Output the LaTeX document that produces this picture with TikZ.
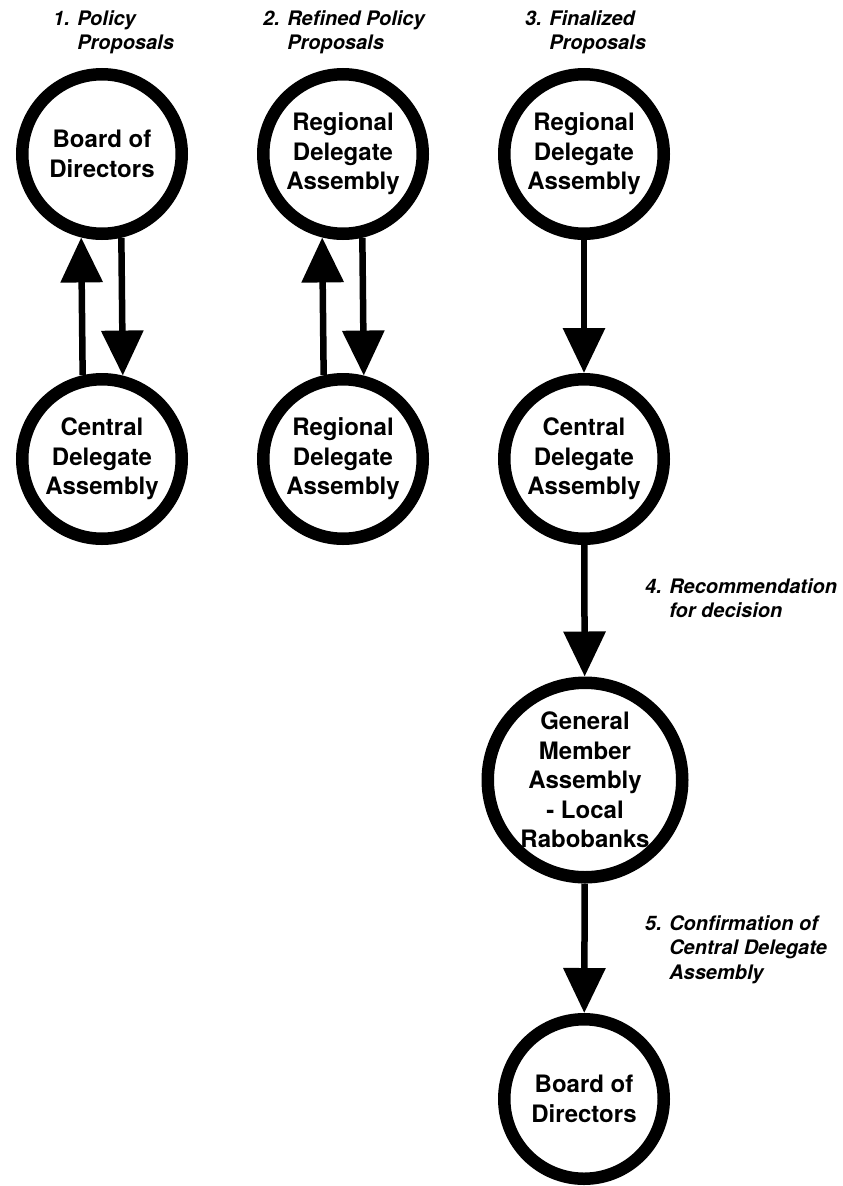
\documentclass[tikz,border=0pt]{standalone}
\usepackage{fontspec}
\setmainfont{TeX Gyre Heros}
\usetikzlibrary{arrows.meta}

\begin{document}
\begin{tikzpicture}[x=1pt, y=-1pt,
    body/.style={circle, draw=black, line width=12.5pt, fill=white, minimum size=159.5pt, inner sep=0pt, align=center, font=\bfseries\fontsize{24}{29.5}\selectfont},
    flow/.style={line width=6.5pt, -{Triangle[length=45pt, width=41pt]}},
    lbl/.style={anchor=base west, inner sep=0pt, font=\bfseries\itshape\fontsize{20}{24.5}\selectfont}]
                            \useasboundingbox (0, 0) rectangle (843, 1186);

                            \node (bod1)[body] at (102, 154) {Board of\\Directors};
                            \node (cda1)[body] at (102, 459) {Central\\Delegate\\Assembly};
                            \node (rda2)[body] at (343, 154) {Regional\\Delegate\\Assembly};
                            \node (rdb2)[body] at (343, 459) {Regional\\Delegate\\Assembly};
                            \node (rda3)[body] at (584, 154) {Regional\\Delegate\\Assembly};
                            \node (cda3)[body] at (584, 459) {Central\\Delegate\\Assembly};
                            \node (gma)[body, minimum size=194.5pt] at (585, 780) {General\\Member\\Assembly\\- Local\\Rabobanks};
                            \node (bod3)[body] at (584, 1099) {Board of\\Directors};

                            \node (s1)[lbl] at (53, 25) {\begin{tabular}[t]{@{}l@{ }l@{}}1. & Policy\\ & Proposals\end{tabular}};
                            \node (s2)[lbl] at (263, 25) {\begin{tabular}[t]{@{}l@{ }l@{}}2. & Refined Policy\\ & Proposals\end{tabular}};
                            \node (s3)[lbl] at (525, 25) {\begin{tabular}[t]{@{}l@{ }l@{}}3. & Finalized\\ & Proposals\end{tabular}};
                            \node (s4)[lbl] at (645, 593) {\begin{tabular}[t]{@{}l@{ }l@{}}4. & Recommendation\\ & for decision\end{tabular}};
                            \node (s5)[lbl] at (645, 930) {\begin{tabular}[t]{@{}l@{ }l@{}}5. & Confirmation of\\ & Central Delegate\\ & Assembly\end{tabular}};

                            \draw [flow] (cda1.103.4) -- (bod1.256.6);
                            \draw [flow] (bod1.283.4) -- (cda1.76.6);
                            \draw [flow] (rdb2.103.4) -- (rda2.256.6);
                            \draw [flow] (rda2.283.4) -- (rdb2.76.6);
                            \draw [flow] (rda3) -- (cda3);
                            \draw [flow] (cda3) -- (gma);
                            \draw [flow] (gma) -- (bod3);
                        \end{tikzpicture}
\end{document}
